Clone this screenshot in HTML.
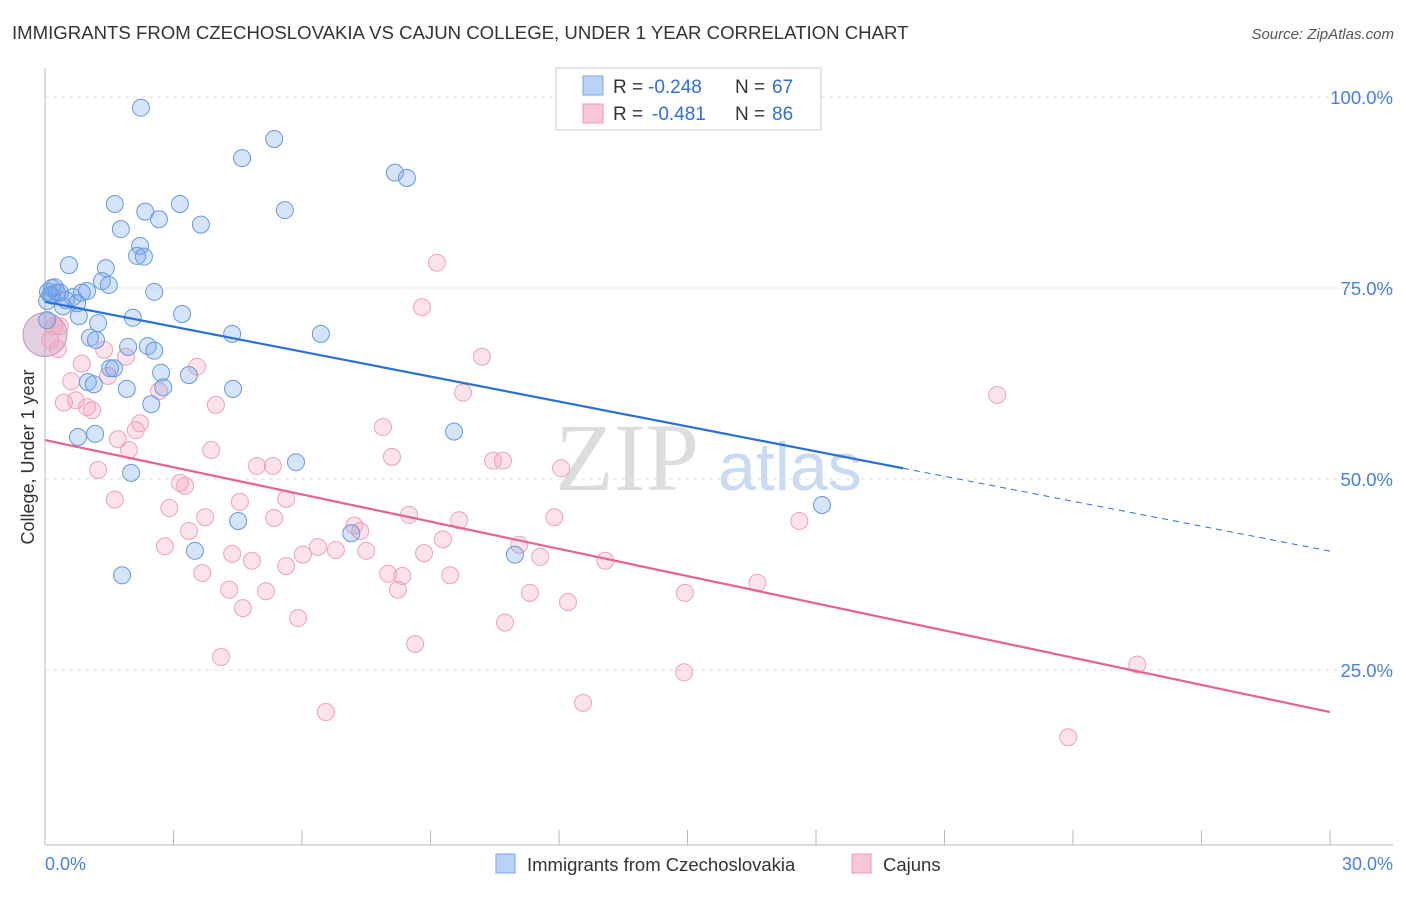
<!DOCTYPE html>
<html><head><meta charset="utf-8"><style>
body{margin:0;background:#fff;font-family:"Liberation Sans",sans-serif}
svg text{font-family:"Liberation Sans",sans-serif}
</style></head><body>
<svg id="c" width="1406" height="892">
<text x="12" y="39" font-size="18.6" fill="#333">IMMIGRANTS FROM CZECHOSLOVAKIA VS CAJUN COLLEGE, UNDER 1 YEAR CORRELATION CHART</text>
<text x="1394" y="39" font-size="15" fill="#555" font-style="italic" text-anchor="end">Source: ZipAtlas.com</text>
<text x="555" y="490" font-size="96" fill="#ddd" style="font-family:'Liberation Serif',serif">ZIP</text>
<text x="718" y="490" font-size="68" fill="#c9daf3">atlas</text>
<g id="grid"></g><g id="pts"></g><g id="lines"></g>
<text transform="translate(34,457) rotate(-90)" font-size="18" fill="#333" text-anchor="middle">College, Under 1 year</text>
<text x="45" y="870" font-size="18" fill="#4a7fdd">0.0%</text>
<text x="1393" y="870" font-size="18" fill="#4a7fdd" text-anchor="end">30.0%</text>
<g>
<rect x="556" y="68" width="265" height="62" fill="#fff" stroke="#ccc"/>
<rect x="583" y="76" width="20" height="19" fill="#b9d2f5" stroke="#7aa6e6"/>
<rect x="583" y="104" width="20" height="19" fill="#f9c7d6" stroke="#ef9ab4"/>
<text x="613" y="93" font-size="19" fill="#333">R =</text>
<text x="648" y="93" font-size="19" fill="#2f6fd9">-0.248</text>
<text x="735" y="93" font-size="19" fill="#333">N =</text>
<text x="772" y="93" font-size="19" fill="#2f6fd9">67</text>
<text x="613" y="120" font-size="19" fill="#333">R =</text>
<text x="652" y="120" font-size="19" fill="#2f6fd9">-0.481</text>
<text x="735" y="120" font-size="19" fill="#333">N =</text>
<text x="772" y="120" font-size="19" fill="#2f6fd9">86</text>
</g>
<g>
<rect x="496" y="854" width="19" height="19" fill="#b9d2f5" stroke="#7aa6e6"/>
<text x="527" y="871" font-size="18.5" fill="#333">Immigrants from Czechoslovakia</text>
<rect x="852" y="854" width="19" height="19" fill="#f9c7d6" stroke="#ef9ab4"/>
<text x="883" y="871" font-size="18.5" fill="#333">Cajuns</text>
</g>
</svg>
<script>
const yTicks=[25,50,75,100];
const yTickLabels=["25.0%","50.0%","75.0%","100.0%"];
const xTicks=[0,3,6,9,12,15,18,21,24,27,30];
const blueX=[2.24,5.35,4.60,8.17,8.45,1.63,3.15,2.34,5.60,2.66,3.64,1.77,2.22,2.15,2.31,0.56,1.42,1.33,1.49,2.55,0.23,0.35,0.12,0.65,0.98,0.86,0.49,0.75,0.42,0.16,0.79,2.05,3.20,1.24,4.37,6.44,1.05,1.19,1.94,2.40,2.55,1.52,1.61,2.71,3.36,1.00,1.14,1.91,2.76,4.39,2.48,0.77,1.17,9.55,5.86,2.01,4.51,18.14,3.50,7.15,10.97,1.80,0.05,0.07,0.05,0.28,0.16];
const blueY=[98.6,94.5,92.0,90.1,89.4,86.0,86.0,85.0,85.2,84.0,83.3,82.7,80.5,79.2,79.1,78.0,77.6,75.9,75.4,74.5,75.1,74.4,74.1,73.8,74.6,74.4,73.4,73.0,72.6,74.0,71.3,71.1,71.6,70.4,69.0,69.0,68.5,68.2,67.3,67.4,66.8,64.5,64.5,63.9,63.6,62.7,62.4,61.8,62.0,61.8,59.8,55.5,55.9,56.2,52.2,50.8,44.5,46.6,40.6,42.9,40.1,37.4,73.3,74.5,70.8,74.4,75.0];
const pinkX=[9.15,8.80,10.20,9.76,22.23,0.21,0.30,1.38,1.89,3.55,1.47,0.86,0.61,0.44,0.72,0.98,1.10,3.99,2.66,2.22,2.12,1.70,1.96,3.88,1.24,1.63,3.15,3.27,2.90,4.55,5.63,4.95,5.32,7.89,8.10,10.46,10.69,12.05,3.74,5.35,7.22,7.36,8.50,9.67,11.89,17.61,2.80,3.36,4.37,4.83,6.02,6.37,6.79,7.50,8.85,9.29,11.07,11.56,13.08,3.67,4.30,5.16,5.63,8.01,8.24,8.34,9.46,11.32,12.21,14.94,16.63,4.62,5.91,10.74,8.64,4.11,14.92,12.56,25.50,23.89,6.56,0.35,0.12];
const pinkY=[78.3,72.5,66.0,61.3,61.0,70.0,67.0,66.9,66.0,64.7,63.5,65.1,62.8,60.0,60.3,59.4,59.0,59.7,61.5,57.3,56.4,55.2,53.8,53.8,51.2,47.3,49.5,49.1,46.2,47.0,47.4,51.7,51.7,56.8,52.9,52.4,52.4,51.4,45.0,44.9,43.9,43.2,45.3,44.6,45.0,44.5,41.2,43.2,40.2,39.3,40.1,41.1,40.7,40.6,40.3,42.1,41.4,39.8,39.3,37.7,35.5,35.3,38.6,37.6,35.5,37.3,37.4,35.1,33.9,35.1,36.4,33.1,31.8,31.2,28.4,26.7,24.7,20.7,25.7,16.2,19.5,70.0,68.2];
const blueTrend=[73.2,-1.088];
const blueSolidEnd=[20.03];
const pinkTrend=[55.1,-1.187];
const NS="http://www.w3.org/2000/svg";
function sx(v){return 45+v/30*1285;}
function sy(v){return 861-v*7.64;}
function mk(tag,attrs,parent){const e=document.createElementNS(NS,tag);for(const k in attrs)e.setAttribute(k,attrs[k]);parent.appendChild(e);return e;}
const grid=document.getElementById('grid');
yTicks.forEach((t,i)=>{
 const l=mk('line',{x1:45,x2:1393,y1:sy(t),y2:sy(t),stroke:'#ddd','stroke-dasharray':'4,4'},grid);
 
 
 const tx=mk('text',{x:1393,y:sy(t)+7,'font-size':18.5,fill:'#4a7fdd','text-anchor':'end'},grid);
 tx.textContent=yTickLabels[i];
 
 
});
const ax=mk('line',{x1:45,x2:45,y1:68,y2:845,stroke:'#bbb'},grid);


const bx=mk('line',{x1:45,x2:1393,y1:845,y2:845,stroke:'#bbb'},grid);


xTicks.forEach(t=>{
 const l=mk('line',{x1:sx(t),x2:sx(t),y1:830,y2:845,stroke:'#bbb'},grid);
 
 
});
const pts=document.getElementById('pts');
const big=mk('circle',{cx:sx(0),cy:sy(68.9),r:22,fill:'rgba(190,150,190,0.45)',stroke:'#c49ac0'},pts);


pinkX.forEach((x,i)=>{
 const c=mk('circle',{cx:sx(x),cy:sy(pinkY[i]),r:8.5,fill:'rgba(245,160,185,0.3)',stroke:'#eda3b9','stroke-width':1},pts);
 
 
});
blueX.forEach((x,i)=>{
 const c=mk('circle',{cx:sx(x),cy:sy(blueY[i]),r:8.5,fill:'rgba(120,165,235,0.3)',stroke:'#6798e0','stroke-width':1},pts);
 
 
});
const lines=document.getElementById('lines');
const bf=x=>blueTrend[0]+blueTrend[1]*x, pf=x=>pinkTrend[0]+pinkTrend[1]*x;
const b1=mk('line',{x1:sx(0),y1:sy(bf(0)),x2:sx(blueSolidEnd[0]),y2:sy(bf(blueSolidEnd[0])),stroke:'#2a6fd9','stroke-width':2.2},lines);


const b2=mk('line',{x1:sx(blueSolidEnd[0]),y1:sy(bf(blueSolidEnd[0])),x2:sx(30),y2:sy(bf(30)),stroke:'#2a6fd9','stroke-width':1,'stroke-dasharray':'6,5'},lines);


const p1=mk('line',{x1:sx(0),y1:sy(pf(0)),x2:sx(30),y2:sy(pf(30)),stroke:'#e8628e','stroke-width':2.2},lines);


</script>
</body></html>
